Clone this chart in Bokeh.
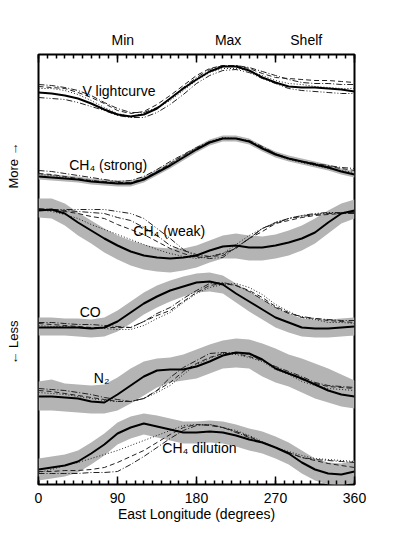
from bokeh.plotting import figure
from bokeh.models import Range1d, LinearAxis, FixedTicker, Label
from bokeh.embed import file_html
from bokeh.resources import INLINE

FONT = "Liberation Sans"

# East longitude (degrees)
lon = [0, 15, 30, 45, 60, 75, 90, 105, 120, 135, 150, 165, 180,
       195, 210, 225, 240, 255, 270, 285, 300, 315, 330, 345, 360]

# --- V lightcurve (no band) ---
v_obs = [392, 391, 389, 386, 381, 375, 370, 368, 370, 376, 386, 396, 405, 413, 418, 418, 414, 407, 402, 398, 397, 397, 396, 395, 393]
v_m1 = [398, 397, 396, 392, 387, 381, 374, 371, 373, 380, 389, 399, 409, 416, 419, 419, 416, 411, 407, 406, 405, 404, 404, 403, 402]
v_m2 = [396, 396, 394, 390, 384, 377, 371, 368, 371, 376, 384, 394, 404, 412, 416, 416, 414, 409, 404, 401, 400, 398, 397, 396, 396]
v_m3 = [400, 399, 397, 394, 389, 382, 376, 372, 372, 377, 386, 397, 407, 415, 419, 419, 417, 413, 409, 405, 402, 401, 401, 400, 400]
v_m4 = [387, 386, 385, 382, 378, 374, 369, 367, 367, 372, 380, 390, 401, 409, 414, 415, 412, 406, 401, 396, 394, 393, 392, 391, 391]

# --- CH4 (strong) ---
cs_obs = [308, 307, 306, 305, 303, 302, 301, 301, 305, 312, 319, 327, 335, 342, 346, 346, 343, 336, 330, 326, 323, 320, 317, 313, 310]
cs_hi = [311, 310, 309, 308, 306, 305, 304, 304, 308, 315, 322, 330, 338, 345, 349, 349, 346, 339, 333, 329, 326, 323, 320, 316, 313]
cs_lo = [305, 304, 303, 302, 300, 299, 298, 298, 302, 309, 316, 324, 332, 339, 343, 343, 340, 333, 327, 323, 320, 317, 314, 310, 307]
cs_m1 = [311, 310, 308, 306, 304, 303, 302, 302, 306, 313, 321, 329, 336, 342, 346, 346, 343, 337, 331, 326, 323, 321, 318, 316, 314]
cs_m2 = [310, 309, 307, 305, 304, 302, 301, 302, 305, 312, 320, 328, 336, 343, 347, 346, 343, 336, 330, 325, 322, 319, 316, 314, 312]
cs_m3 = [314, 313, 311, 309, 307, 305, 303, 304, 308, 315, 323, 330, 337, 343, 346, 346, 344, 338, 331, 326, 323, 321, 319, 317, 316]

# --- CH4 (weak) ---
cw_obs = [274, 275, 271, 262, 254, 246, 239, 233, 229, 227, 226, 227, 229, 234, 238, 239, 237, 237, 239, 242, 246, 252, 262, 271, 274]
cw_hi = [286, 286, 281, 272, 264, 256, 249, 244, 240, 237, 236, 236, 239, 244, 249, 251, 249, 248, 250, 254, 259, 266, 274, 281, 285]
cw_lo = [267, 266, 259, 249, 241, 232, 225, 219, 215, 213, 212, 214, 217, 222, 226, 226, 224, 224, 226, 229, 234, 241, 251, 261, 266]
cw_m1 = [275, 274, 273, 271, 268, 266, 260, 255, 250, 243, 236, 231, 227, 228, 229, 237, 246, 253, 261, 264, 267, 269, 270, 271, 272]
cw_m2 = [275, 273, 270, 266, 260, 255, 250, 245, 240, 235, 231, 228, 226, 228, 231, 240, 249, 256, 262, 266, 269, 270, 272, 272, 273]
cw_m3 = [276, 275, 274, 273, 272, 271, 267, 264, 257, 249, 239, 234, 230, 228, 231, 236, 246, 256, 262, 266, 268, 270, 271, 271, 271]
cw_m4 = [275, 275, 275, 275, 275, 275, 273, 271, 266, 256, 246, 235, 228, 226, 227, 237, 246, 256, 261, 266, 269, 271, 272, 272, 272]

# --- CO ---
co_obs = [157, 157, 157, 157, 156, 157, 163, 172, 181, 188, 194, 198, 202, 203, 200, 191, 183, 175, 167, 162, 157, 156, 156, 157, 158]
co_hi = [167, 167, 166, 166, 165, 167, 174, 183, 192, 199, 204, 208, 211, 212, 209, 201, 193, 185, 177, 171, 166, 165, 165, 166, 167]
co_lo = [149, 149, 149, 148, 147, 148, 153, 161, 170, 177, 183, 188, 192, 193, 191, 182, 173, 165, 157, 152, 148, 147, 147, 148, 149]
co_m1 = [161, 160, 159, 158, 157, 157, 157, 157, 163, 169, 174, 183, 192, 199, 201, 199, 194, 187, 178, 172, 167, 166, 164, 163, 162]
co_m2 = [159, 158, 158, 157, 156, 156, 155, 155, 159, 166, 172, 182, 191, 197, 200, 201, 197, 190, 180, 173, 167, 165, 162, 162, 161]
co_m3 = [162, 162, 161, 160, 160, 159, 158, 157, 163, 171, 177, 186, 194, 201, 202, 199, 193, 185, 177, 171, 168, 166, 165, 164, 164]

# --- N2 ---
n2_obs = [88, 88, 87, 86, 83, 82, 90, 99, 108, 114, 115, 115, 118, 123, 129, 132, 131, 125, 116, 111, 106, 100, 94, 90, 88]
n2_hi = [103, 105, 101, 100, 99, 100, 107, 116, 123, 126, 127, 130, 135, 140, 144, 146, 145, 141, 136, 130, 126, 121, 116, 110, 104]
n2_lo = [74, 74, 73, 72, 71, 71, 74, 81, 89, 97, 102, 104, 106, 111, 116, 117, 116, 108, 102, 98, 92, 86, 82, 78, 76]
n2_m1 = [94, 93, 91, 89, 87, 85, 83, 83, 86, 94, 102, 113, 121, 127, 131, 131, 128, 124, 117, 111, 105, 101, 98, 97, 96]
n2_m2 = [92, 91, 90, 88, 86, 84, 83, 83, 86, 92, 99, 110, 120, 126, 131, 130, 127, 123, 115, 110, 103, 99, 96, 95, 94]
n2_m3 = [96, 95, 94, 92, 90, 87, 85, 83, 86, 94, 107, 117, 124, 131, 132, 132, 130, 124, 118, 113, 108, 102, 99, 98, 97]

# --- CH4 dilution ---
cd_obs = [15, 17, 19, 23, 31, 40, 51, 57, 61, 58, 55, 52, 52, 53, 52, 49, 45, 42, 37, 31, 22, 15, 11, 10, 13]
cd_hi = [26, 28, 30, 34, 42, 51, 62, 68, 71, 69, 66, 63, 63, 64, 63, 60, 56, 53, 48, 42, 34, 26, 22, 21, 24]
cd_lo = [4, 6, 8, 12, 20, 29, 40, 46, 50, 47, 44, 41, 41, 42, 41, 38, 34, 31, 26, 20, 11, 4, 0, -1, 2]
cd_m1 = [13, 13, 14, 14, 15, 17, 22, 28, 34, 42, 50, 57, 60, 59, 57, 53, 48, 42, 37, 32, 27, 24, 21, 19, 17]
cd_m2 = [12, 15, 19, 22, 26, 30, 34, 39, 44, 49, 54, 59, 60, 60, 57, 54, 49, 43, 37, 33, 29, 26, 25, 24, 23]
cd_m3 = [11, 11, 11, 11, 12, 12, 13, 20, 28, 37, 46, 54, 59, 60, 57, 52, 47, 42, 37, 32, 27, 25, 24, 23, 22]

# tick values / labels
major_ticks = [0, 90, 180, 270, 360]
minor_ticks = [0, 10, 20, 30, 40, 50, 60, 70, 80, 90, 100, 110, 120, 130, 140, 150, 160, 170, 180,
               190, 200, 210, 220, 230, 240, 250, 260, 270, 280, 290, 300, 310, 320, 330, 340, 350, 360]
top_names = ["Min", "Max", "Shelf"]
top_lons = [96, 216, 305]
side_names = ["\u2190 Less", "More \u2192"]
side_pos = [142, 319]

p = figure(width=386, height=543, output_backend="svg", toolbar_location=None,
           x_range=Range1d(0, 360), y_range=Range1d(0, 430),
           x_axis_location="below", y_axis_location=None,
           min_border_left=38, min_border_right=32, min_border_top=54, min_border_bottom=59)
p.grid.visible = False
p.background_fill_color = "white"
p.border_fill_color = "white"
p.outline_line_color = "black"
p.outline_line_width = 2

def style_ticks(ax):
    ax.ticker = FixedTicker(ticks=major_ticks, minor_ticks=minor_ticks)
    ax.axis_line_color = None
    ax.major_tick_in = 8
    ax.major_tick_out = 0
    ax.minor_tick_in = 4
    ax.minor_tick_out = 0
    ax.major_tick_line_color = "black"
    ax.minor_tick_line_color = "black"
    ax.major_tick_line_width = 1.5
    ax.minor_tick_line_width = 1.5

def style_labels(ax, size="14px"):
    ax.major_label_text_font = FONT
    ax.major_label_text_font_size = size
    ax.major_label_text_color = "black"

def names_axis(ticks, names):
    ax = LinearAxis(ticker=FixedTicker(ticks=ticks, minor_ticks=[]),
                    major_label_overrides={t: n for t, n in zip(ticks, names)})
    ax.axis_line_color = None
    ax.major_tick_in = 0
    ax.major_tick_out = 0
    ax.major_tick_line_color = None
    ax.minor_tick_line_color = None
    return ax

# bottom axis
xb = p.xaxis[0]
style_ticks(xb)
style_labels(xb)
xb.major_label_standoff = 8
xb.axis_label = "East Longitude (degrees)"
xb.axis_label_text_font = FONT
xb.axis_label_text_font_size = "14px"
xb.axis_label_text_font_style = "normal"
xb.axis_label_text_color = "black"
xb.axis_label_standoff = 0

# top: tick-only axis against the frame, then the Min/Max/Shelf names
xt = LinearAxis()
style_ticks(xt)
xt.major_label_overrides = {t: "" for t in major_ticks}
xt.major_label_text_font_size = "0px"
xt.major_label_standoff = 0
p.add_layout(xt, "above")

xn = names_axis(top_lons, top_names)
style_labels(xn)
xn.major_label_standoff = 7
p.add_layout(xn, "above")

# left: More / Less
yl = names_axis(side_pos, side_names)
style_labels(yl, "13px")
yl.major_label_orientation = "vertical"
yl.major_label_standoff = 18
p.add_layout(yl, "left")

GRAY = "#b4b4b4"
MC = "#222222"
styles = ["5 3", "1 2", "6 2 1 2", "6 2 1 2 1 2"]

panels = [
    (None, None, v_obs, [v_m1, v_m2, v_m3, v_m4]),
    (cs_lo, cs_hi, cs_obs, [cs_m1, cs_m2, cs_m3]),
    (cw_lo, cw_hi, cw_obs, [cw_m1, cw_m2, cw_m3, cw_m4]),
    (co_lo, co_hi, co_obs, [co_m1, co_m2, co_m3]),
    (n2_lo, n2_hi, n2_obs, [n2_m1, n2_m2, n2_m3]),
    (cd_lo, cd_hi, cd_obs, [cd_m1, cd_m2, cd_m3]),
]
for lo, hi, obs, models in panels:
    if lo is not None:
        p.varea(x=lon, y1=lo, y2=hi, fill_color=GRAY)
for lo, hi, obs, models in panels:
    for m, dash in zip(models, styles):
        p.line(lon, m, line_color=MC, line_width=1, line_dash=dash)
    p.line(lon, obs, line_color="black", line_width=2)

# in-plot labels
panel_labels = [("V lightcurve", 50, 394), ("CH\u2084 (strong)", 35, 320),
                ("CH\u2084 (weak)", 108, 254), ("CO", 47, 173),
                ("N\u2082", 63, 107), ("CH\u2084 dilution", 141, 37)]
for txt, x, y in panel_labels:
    p.add_layout(Label(x=x, y=y, text=txt, text_font=FONT, text_font_size="14px",
                       text_color="black", text_align="left", text_baseline="middle"))

open("out.html", "w").write(file_html(p, INLINE))
